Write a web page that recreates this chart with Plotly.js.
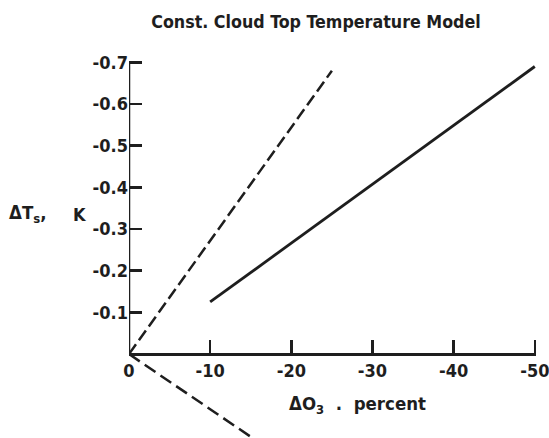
<!DOCTYPE html>
<html>
<head>
<meta charset="utf-8">
<script src="https://cdn.plot.ly/plotly-3.0.1.min.js"></script>
<style>html,body{margin:0;padding:0;background:#fff;}#chart{width:549px;height:438px;}</style>
</head>
<body>
<div id="chart"></div>
<script>
// Data
const xTickVals = [0, -10, -20, -30, -40, -50];
const xTickText = ['0', '-10', '-20', '-30', '-40', '-50'];
const yTickVals = [-0.1, -0.2, -0.3, -0.4, -0.5, -0.6, -0.7];
const yTickText = ['-0.1', '-0.2', '-0.3', '-0.4', '-0.5', '-0.6', '-0.7'];

const dashedUpperX = [0, -25];
const dashedUpperY = [0, -0.68];
const solidX = [-10, -50];
const solidY = [-0.125, -0.69];
const dashedLowerX = [0, -15.5];
const dashedLowerY = [0, 0.205];

const INK = '#1e1e1e';
const FONT = 'DejaVu Sans Condensed';

const common = {mode: 'lines', hoverinfo: 'skip', showlegend: false};
const traces = [
  Object.assign({x: dashedUpperX, y: dashedUpperY, line: {color: INK, width: 2.5, dash: '12px,5px'}}, common),
  Object.assign({x: solidX, y: solidY, line: {color: INK, width: 2.8}}, common),
  Object.assign({x: dashedLowerX, y: dashedLowerY, line: {color: INK, width: 2.5, dash: '13px,6px'}}, common)
];

// y range chosen so y=0 falls at the x-axis position
const yBottom = 0.2014, yTop = -0.72;
const xAxisPos = (yBottom - 0) / (yBottom - yTop);

const layout = {
  width: 549, height: 438,
  margin: {l: 129, r: 13, t: 54, b: 0},
  paper_bgcolor: '#fff', plot_bgcolor: '#fff',
  title: {
    text: 'Const. Cloud Top Temperature Model',
    xref: 'container', x: 316 / 549, xanchor: 'center',
    yref: 'container', y: 1 - 22 / 438, yanchor: 'middle',
    font: {family: FONT, size: 17.7, color: INK, weight: 'bold'}
  },
  xaxis: {
    range: [0, -50.15],
    tickvals: xTickVals, ticktext: xTickText,
    ticks: 'inside', ticklen: 13, tickwidth: 2.5, tickcolor: INK,
    showline: true, linewidth: 2.5, linecolor: INK,
    showgrid: false, zeroline: false,
    anchor: 'free', position: xAxisPos,
    ticklabeloverflow: 'allow',
    tickfont: {family: FONT, size: 18, color: INK, weight: 'bold'},
    automargin: false, fixedrange: true
  },
  yaxis: {
    range: [yBottom, yTop],
    tickvals: yTickVals, ticktext: yTickText,
    ticks: 'inside', ticklen: 13, tickwidth: 2.5, tickcolor: INK,
    showline: false, showgrid: false, zeroline: false,
    ticklabeloverflow: 'allow',
    tickfont: {family: FONT, size: 18, color: INK, weight: 'bold'},
    automargin: false, fixedrange: true
  },
  shapes: [
    {type: 'line', xref: 'x', yref: 'y', x0: 0, x1: 0, y0: 0, y1: Math.min(...yTickVals),
     line: {color: INK, width: 2.5}}
  ],
  annotations: [
    {xref: 'paper', yref: 'paper', x: (7 - 129) / 406, y: (438 - 214) / 384, xanchor: 'left', yanchor: 'middle',
     text: '\u0394T<sub>s</sub>,', showarrow: false, font: {family: FONT, size: 18.5, color: INK, weight: 'bold'}},
    {xref: 'paper', yref: 'paper', x: (80 - 129) / 406, y: (438 - 214) / 384, xanchor: 'center', yanchor: 'middle',
     text: 'K', showarrow: false, font: {family: FONT, size: 18, color: INK, weight: 'bold'}},
    {xref: 'paper', yref: 'paper', x: (357 - 129) / 406, y: (438 - 405) / 384, xanchor: 'center', yanchor: 'middle',
     text: '\u0394O<sub>3</sub>\u00a0\u00a0.\u00a0\u00a0percent', showarrow: false, font: {family: FONT, size: 18.5, color: INK, weight: 'bold'}}
  ]
};

Plotly.newPlot('chart', traces, layout, {staticPlot: true, displayModeBar: false});
</script>
</body>
</html>
